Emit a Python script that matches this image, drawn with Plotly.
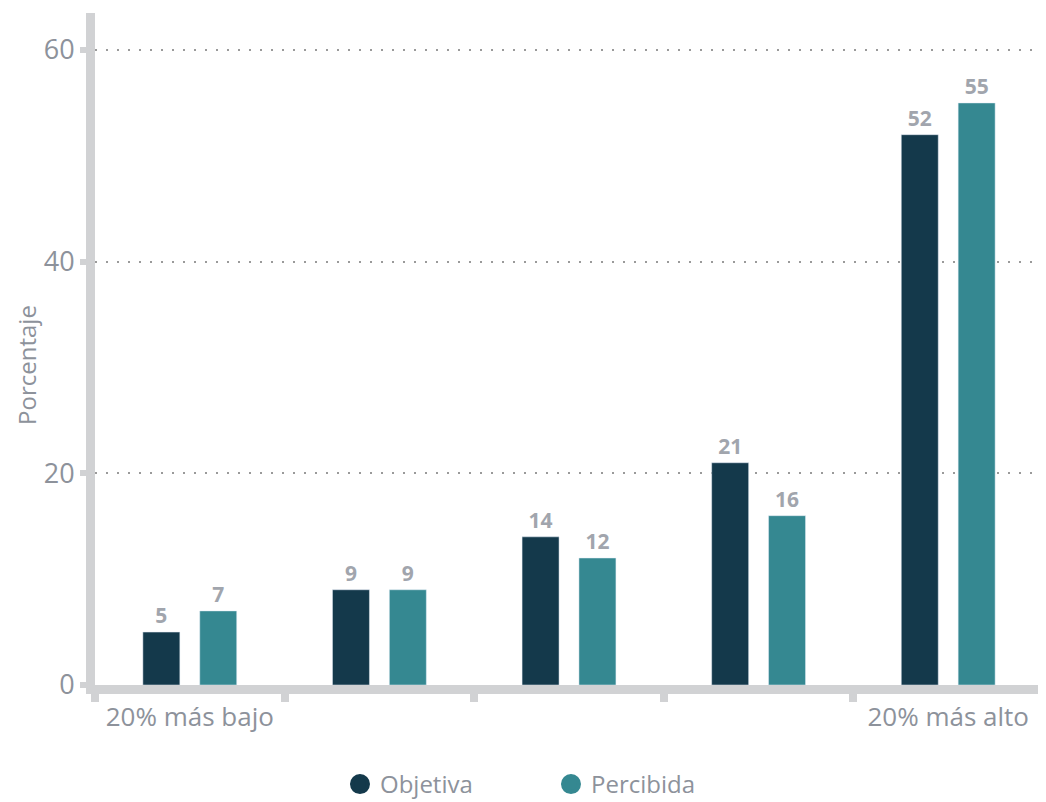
import plotly.graph_objects as go

categories = ["Q1", "Q2", "Q3", "Q4", "Q5"]
tick_labels = ["20% más bajo", "", "", "", "20% más alto"]
objetiva = [5, 9, 14, 21, 52]
percibida = [7, 9, 12, 16, 55]
y_ticks = [0, 20, 40, 60]
y_title = "Porcentaje"

c_obj = "#14394b"
c_per = "#358891"
gray_txt = "#8d929b"
axis_gray = "#d1d2d4"
FONT = "Open Sans"

fig = go.Figure()
fig.add_trace(go.Bar(x=categories, y=objetiva, name="Objetiva", marker_color=c_obj,
                     text=objetiva, textposition="outside", cliponaxis=False,
                     textfont=dict(family=FONT, size=21, color="#a1a5ad", weight="bold"),
                     showlegend=False))
fig.add_trace(go.Bar(x=categories, y=percibida, name="Percibida", marker_color=c_per,
                     text=percibida, textposition="outside", cliponaxis=False,
                     textfont=dict(family=FONT, size=21, color="#a1a5ad", weight="bold"),
                     showlegend=False))
for name, col in [("Objetiva", c_obj), ("Percibida", c_per)]:
    fig.add_trace(go.Scatter(x=[None], y=[None], mode="markers", name=name,
                             marker=dict(symbol="circle", size=22, color=col,
                                         line=dict(color=col, width=4))))

fig.update_layout(
    width=1038, height=794,
    margin=dict(l=87, r=3, t=5, b=117, autoexpand=False),
    plot_bgcolor="white", paper_bgcolor="white",
    barmode="group", bargap=0.4, bargroupgap=0.35,
    font=dict(family=FONT, color=gray_txt, size=22),
    showlegend=True,
    legend=dict(orientation="h", x=0.481, xanchor="center", y=-0.148, yanchor="middle",
                font=dict(size=24, color=gray_txt), entrywidth=166, entrywidthmode="pixels"),
    annotations=[dict(text=y_title, xref="paper", yref="paper", x=-0.073, y=0.476,
                      textangle=-90, showarrow=False, xanchor="center", yanchor="middle",
                      font=dict(size=24, color=gray_txt, family=FONT))],
)
fig.update_xaxes(
    type="category", categoryorder="array", categoryarray=categories,
    tickvals=categories, ticktext=tick_labels, tickson="boundaries",
    ticks="outside", ticklen=8, tickwidth=8, tickcolor=axis_gray,
    showline=True, linewidth=9, linecolor=axis_gray, showgrid=False,
    tickfont=dict(size=26, color=gray_txt), ticklabelstandoff=1,
    range=[-0.5, 4.5], automargin=False,
)
fig.update_yaxes(
    range=[0, 63.5], tickvals=y_ticks, ticks="outside", ticklen=6, tickwidth=6,
    tickcolor=axis_gray, showline=True, linewidth=9, linecolor=axis_gray,
    showgrid=True, gridcolor="#9a9a9a", griddash="2px,9px", gridwidth=1.5,
    zeroline=False, tickfont=dict(size=27, color=gray_txt), ticklabelstandoff=0,
    automargin=False,
)
fig.write_html("out.html")
